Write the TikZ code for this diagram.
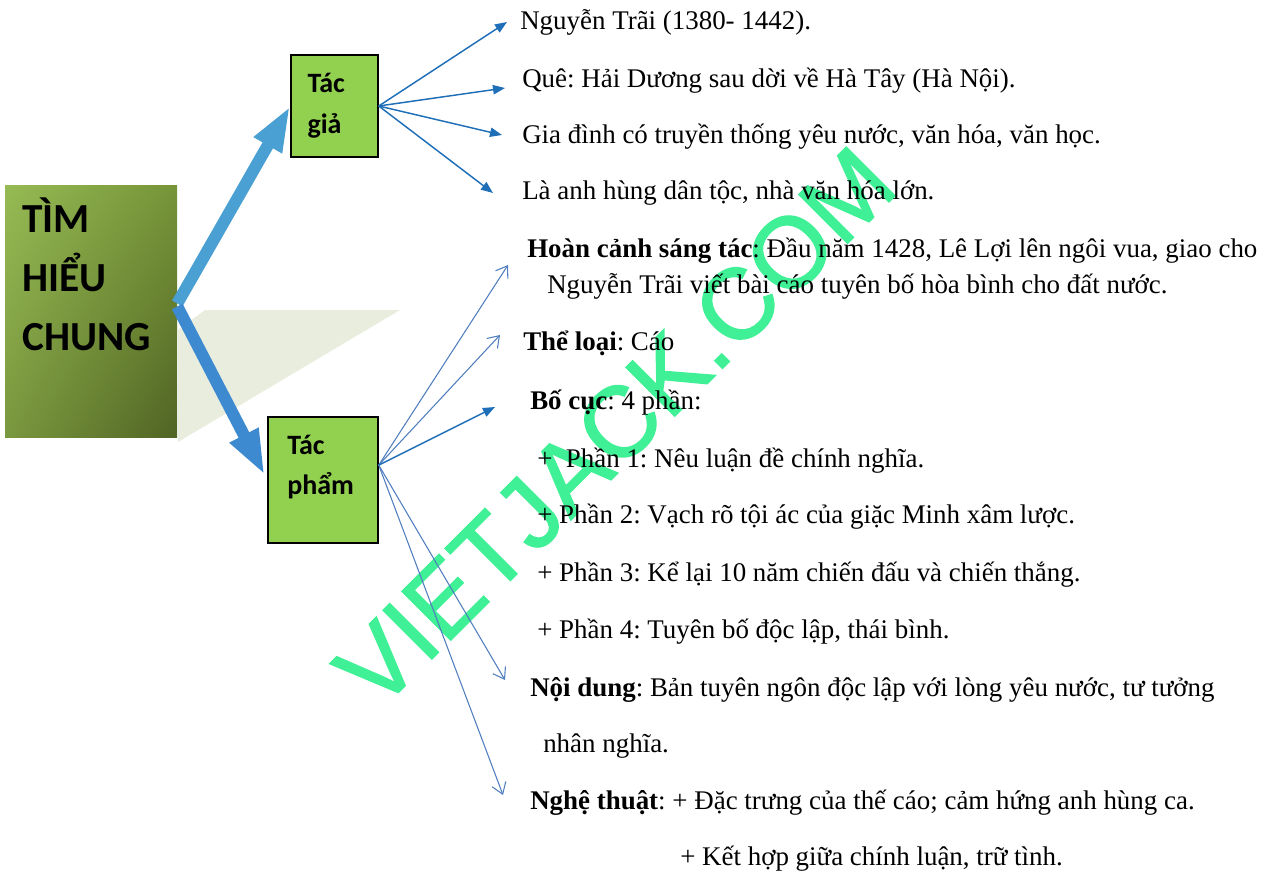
\documentclass[tikz,border=0pt]{standalone}
\usepackage{fontspec}
\setmainfont{Liberation Serif}
\newfontfamily\boxfont{Carlito}
\newfontfamily\wmfont[FakeBold=1.5]{Liberation Sans}
\usetikzlibrary{arrows.meta,calc,shadings}
\frenchspacing

\definecolor{boxgreen}{HTML}{92D050}
\definecolor{wmgreen}{RGB}{64,240,150}
\definecolor{shadowgray}{RGB}{233,237,222}
\definecolor{upblue}{RGB}{74,160,210}
\definecolor{downblue}{RGB}{62,138,208}
\definecolor{tgblue}{RGB}{31,111,184}
\definecolor{tpblue}{RGB}{80,126,190}
\definecolor{olivea}{RGB}{150,186,84}
\definecolor{oliveb}{RGB}{118,148,56}
\definecolor{olivec}{RGB}{122,152,62}
\definecolor{olived}{RGB}{80,100,36}

\tikzset{
  txt/.style={anchor=base west, inner sep=0pt, font=\fontsize{20.2}{24}\selectfont},
  tbox/.style={draw=black, line width=1.1pt, fill=boxgreen, inner sep=0pt,
    font=\boxfont\bfseries\fontsize{21}{30.75}\selectfont, align=left},
  bigarrow/.style={line width=9pt, -{Triangle[length=34pt, width=22pt]}},
  tgarrow/.style={draw=tgblue, line width=1.1pt, -{Triangle[length=9pt, width=7pt]}},
  tparrow/.style={draw=tpblue, line width=0.8pt, -{Straight Barb[length=8pt, width=11pt]}}
}

\begin{document}
\begin{tikzpicture}[x=0.75pt,y=-0.75pt]
  \useasboundingbox (0,0) rectangle (1268,876);
  % watermark
  \node[text=wmgreen, font=\wmfont\fontsize{75}{77}\selectfont, rotate=45, inner sep=0pt]
    (wmark) at (615,427) {VIETJACK.COM};
  % shadow
  \fill[shadowgray] (205,310) -- (400,310) -- (178,442) -- (178,330) -- cycle;
  % main box
  \node[minimum width=129pt, minimum height=189pt, inner sep=0pt, shade,
    upper left=olivea, upper right=oliveb, lower left=olivec, lower right=olived] (main) at (91,311) {};
  \node[anchor=base west, inner sep=0pt, align=left,
    font=\boxfont\bfseries\fontsize{31}{44}\selectfont] (mainlbl) at (22,350) {TÌM\\HIỂU\\CHUNG};
  % the two boxes
  \node[tbox, minimum width=65.25pt, minimum height=76.5pt, text width=40.5pt] (tg) at (334.5,106) {Tác\\giả};
  \node[tbox, minimum width=82.5pt, minimum height=94.5pt] (tp) at (323,480) {};
  \node[anchor=base west, inner sep=0pt, align=left,
    font=\boxfont\bfseries\fontsize{21}{30}\selectfont] (tplbl) at (287,494) {Tác\\phẩm};
  % big arrows
  \draw[bigarrow, upblue] (main.5) -- (tg.west);
  \draw[bigarrow, downblue, shorten >=4pt] (main.3) -- (tp.west);
  % texts of Tac gia
  \node[txt] (tg1) at (520,29) {Nguyễn Trãi (1380- 1442).};
  \node[txt] (tg2) at (522,87) {Quê: Hải Dương sau dời về Hà Tây (Hà Nội).};
  \node[txt] (tg3) at (522,143) {Gia đình có truyền thống yêu nước, văn hóa, văn học.};
  \node[txt] (tg4) at (522,199) {Là anh hùng dân tộc, nhà văn hóa lớn.};
  % texts of Tac pham
  \node[txt] (tp1) at (527,257) {\textbf{Hoàn cảnh sáng tác}: Đầu năm 1428, Lê Lợi lên ngôi vua, giao cho};
  \node[txt] (tp1b) at (547,293) {Nguyễn Trãi viết bài cáo tuyên bố hòa bình cho đất nước.};
  \node[txt] (tp2) at (523,350) {\textbf{Thể loại}: Cáo};
  \node[txt] (tp3) at (530,409) {\textbf{Bố cục}: 4 phần:};
  \node[txt] (tp3a) at (537,467) {+\ \ Phần 1: Nêu luận đề chính nghĩa.};
  \node[txt] (tp3b) at (537,523) {+ Phần 2: Vạch rõ tội ác của giặc Minh xâm lược.};
  \node[txt] (tp3c) at (537,581) {+ Phần 3: Kể lại 10 năm chiến đấu và chiến thắng.};
  \node[txt] (tp3d) at (537,638) {+ Phần 4: Tuyên bố độc lập, thái bình.};
  \node[txt] (tp4) at (530,696) {\textbf{Nội dung}: Bản tuyên ngôn độc lập với lòng yêu nước, tư tưởng};
  \node[txt] (tp4b) at (543,752) {nhân nghĩa.};
  \node[txt] (tp5) at (530,809) {\textbf{Nghệ thuật}: + Đặc trưng của thế cáo; cảm hứng anh hùng ca.};
  \node[txt] (tp5b) at (680,865) {+ Kết hợp giữa chính luận, trữ tình.};
  % arrow ends
  \coordinate (e1) at (507,22);
  \coordinate (e2) at (505,88);
  \coordinate (e3) at (502,135);
  \coordinate (e4) at (493,193);
  \coordinate (f1) at (508,265);
  \coordinate (f2) at (500,335);
  \coordinate (f3) at (495,407);
  \coordinate (f4) at (505,680);
  \coordinate (f5) at (503,795);
  \foreach \e in {e1,e2,e3,e4}
    \draw[tgarrow] (tg.east) -- (\e);
  \foreach \f in {f1,f2,f4,f5}
    \draw[tparrow] (tp.15) -- (\f);
  \draw[tgarrow] (tp.15) -- (f3);
\end{tikzpicture}
\end{document}
